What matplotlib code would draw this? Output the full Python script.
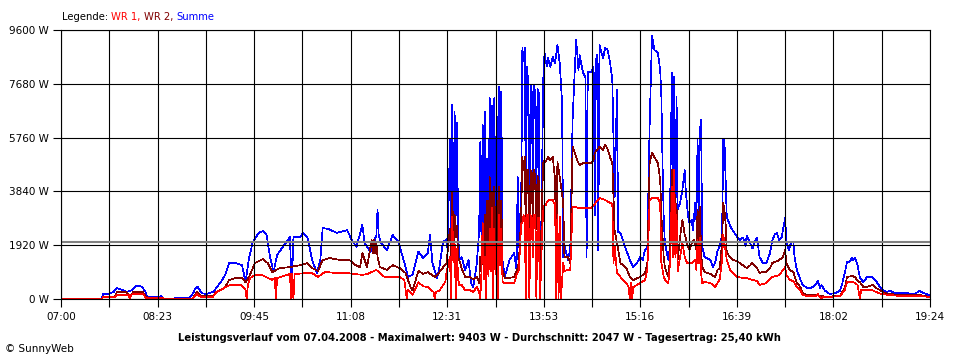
import numpy as np
import matplotlib
matplotlib.use("Agg")
import matplotlib.pyplot as plt

summe = [(0, 0), (6, 20), (14, 20), (15, 0), (35, 0), (36, 180), (41, 190), (45, 250), (48, 390), (52, 330),
         (56, 250), (60, 300), (64, 460), (69, 450), (72, 280), (74, 70), (80, 60), (86, 100), (87, 0), (97, 0),
         (98, 40), (110, 40), (113, 200), (115, 380), (117, 430), (119, 300), (121, 200), (125, 180), (130, 250),
         (133, 390), (136, 560), (138, 680), (141, 900), (144, 1280), (150, 1280), (155, 1210), (158, 600),
         (161, 1460), (164, 2000), (169, 2350), (173, 2430), (176, 2280), (179, 1500), (182, 960), (185, 1570),
         (190, 1860), (196, 2210), (197, 960), (198, 960), (199, 2210), (205, 2210), (207, 2360), (211, 2210),
         (215, 1390), (219, 930), (222, 1390), (224, 2530), (229, 2500), (236, 2360), (245, 2460), (249, 2100),
         (253, 1860), (258, 2640), (260, 2000), (265, 1680), (270, 2280), (271, 3180), (272, 2280), (274, 2000),
         (279, 1750), (284, 2280), (289, 2030), (295, 1140), (297, 790), (301, 860), (306, 1700), (310, 1460),
         (314, 1650), (316, 2280), (318, 1280), (322, 750), (324, 1140), (327, 2030), (330, 2130), (331, 1750),
         (333, 5670), (334, 2460), (335, 6920), (336, 2000), (337, 6670), (338, 3000), (339, 6280), (340, 2400),
         (341, 1390), (343, 1500), (346, 1040), (349, 1390), (351, 570), (353, 430), (356, 1280), (358, 2460),
         (359, 5600), (360, 2000), (361, 6200), (362, 1800), (363, 6670), (364, 2500), (365, 5000), (366, 1700),
         (367, 7170), (368, 2400), (369, 6900), (370, 3000), (371, 7170), (372, 2200), (373, 6500), (374, 1800),
         (375, 7570), (376, 2400), (377, 7400), (378, 1390), (380, 790), (384, 1390), (388, 1640), (390, 1040),
         (391, 4350), (392, 1860), (393, 2900), (394, 3430), (395, 8960), (396, 8500), (397, 8960), (398, 3000),
         (399, 8280), (400, 7700), (401, 1300), (402, 7640), (403, 7400), (404, 4000), (405, 7640), (406, 7350),
         (407, 3800), (408, 7500), (409, 7350), (410, 1300), (411, 2000), (412, 5000), (413, 8000), (414, 8780),
         (415, 8500), (416, 8300), (417, 8600), (418, 8420), (419, 8280), (421, 8640), (423, 8420), (425, 9070),
         (427, 8420), (429, 7000), (430, 1500), (431, 1930), (434, 1390), (436, 1750), (438, 6390), (441, 9240),
         (442, 8780), (443, 8170), (444, 8700), (447, 8070), (449, 7920), (450, 1500), (451, 8100), (454, 8100),
         (456, 8280), (457, 3000), (458, 8500), (459, 8710), (460, 1750), (461, 9070), (464, 8600), (466, 8960),
         (468, 8890), (470, 8460), (472, 7820), (474, 3640), (476, 7460), (477, 2400), (479, 2360), (481, 2100),
         (484, 1750), (487, 1390), (490, 1140), (493, 1280), (496, 1500), (498, 1390), (500, 1750), (502, 1860),
         (504, 6280), (506, 9400), (508, 8890), (511, 8780), (513, 8170), (514, 7210), (515, 4850), (516, 2930),
         (517, 2000), (520, 1390), (521, 1750), (523, 8070), (524, 3000), (525, 7920), (526, 2500), (527, 7210),
         (528, 3200), (530, 3430), (532, 3890), (534, 4600), (535, 3780), (537, 2930), (538, 2710), (540, 2820),
         (541, 2460), (543, 3430), (544, 2820), (545, 5670), (546, 3000), (547, 6000), (548, 6390), (549, 1860),
         (551, 1500), (556, 1390), (558, 1140), (560, 1285), (562, 1700), (564, 1900), (566, 2300), (567, 5670),
         (568, 5670), (569, 4250), (570, 2930), (573, 2600), (575, 2460), (579, 2210), (581, 2106), (584, 2200),
         (586, 1900), (587, 2250), (590, 2000), (592, 1800), (594, 2050), (596, 2200), (598, 1500), (601, 1285),
         (604, 1285), (607, 1640), (609, 2100), (611, 2300), (613, 2350), (615, 2100), (617, 2200), (620, 2900),
         (621, 2100), (623, 1750), (625, 2000), (627, 2030), (628, 1500), (630, 1035), (633, 700), (635, 500),
         (639, 390), (641, 390), (644, 430), (647, 571), (648, 650), (650, 390), (651, 500), (654, 300),
         (657, 214), (658, 178), (663, 214), (667, 300), (669, 571), (671, 930), (673, 1320), (675, 1320),
         (677, 1460), (678, 1400), (680, 1460), (682, 1200), (684, 750), (687, 600), (690, 780), (694, 790),
         (697, 680), (699, 570), (701, 430), (704, 321), (707, 250), (710, 290), (714, 214), (722, 214),
         (731, 180), (735, 290), (738, 214), (741, 180), (744, 110)]

wr2 = [(0, 0), (35, 0), (36, 70), (46, 70), (48, 250), (56, 250), (59, 110), (62, 250), (70, 250), (73, 70),
       (76, 30), (87, 30), (88, 0), (97, 0), (98, 20), (113, 20), (116, 250), (120, 110), (130, 110), (133, 250),
       (136, 320), (140, 390), (144, 680), (150, 750), (155, 750), (158, 600), (161, 790), (166, 1280),
       (173, 1430), (177, 1280), (181, 960), (187, 1100), (196, 1140), (205, 1210), (211, 1280), (215, 1100),
       (220, 1000), (224, 1390), (230, 1460), (239, 1390), (247, 1390), (252, 1210), (256, 1140), (258, 1640),
       (262, 1140), (266, 2100), (267, 1640), (268, 2100), (269, 1640), (270, 2000), (271, 1500), (273, 1140),
       (279, 1040), (284, 1210), (290, 1100), (295, 930), (299, 450), (301, 300), (306, 1000), (310, 900),
       (314, 960), (320, 790), (324, 960), (330, 1280), (333, 2500), (334, 1500), (335, 3780), (336, 1700),
       (337, 3000), (338, 2200), (339, 2600), (340, 1500), (341, 1390), (343, 1100), (346, 790), (350, 790),
       (353, 700), (356, 790), (358, 570), (359, 1500), (360, 1000), (361, 2500), (362, 1200), (363, 3000),
       (364, 1500), (365, 3500), (366, 1300), (367, 4350), (368, 1800), (369, 3800), (370, 2000), (371, 4000),
       (372, 1500), (373, 3500), (374, 1300), (375, 4000), (376, 1800), (377, 3500), (378, 1035), (380, 750),
       (384, 750), (388, 790), (390, 1000), (392, 1285), (394, 3000), (395, 5070), (396, 4600), (397, 5070),
       (398, 2000), (399, 4600), (400, 4600), (401, 1300), (402, 4600), (403, 4500), (404, 2500), (405, 4600),
       (406, 4400), (407, 2500), (408, 4400), (409, 4200), (410, 1300), (411, 2000), (412, 3800), (413, 4900),
       (414, 4960), (415, 4900), (416, 5000), (417, 5070), (418, 5000), (419, 4960), (421, 5070), (423, 4250),
       (424, 1300), (425, 4900), (427, 4350), (430, 3430), (431, 1500), (434, 1500), (436, 1280), (438, 5430),
       (441, 5070), (443, 4850), (444, 4780), (447, 4850), (454, 4850), (456, 4960), (457, 5210), (461, 5430),
       (464, 5320), (466, 5500), (468, 5350), (470, 5070), (472, 4850), (474, 2460), (476, 2000), (479, 1280),
       (484, 1100), (487, 790), (490, 680), (496, 790), (500, 930), (502, 1280), (504, 4850), (506, 5210),
       (508, 5070), (511, 4850), (513, 4250), (514, 3000), (516, 1500), (517, 1140), (520, 790), (521, 1280),
       (523, 4600), (524, 2500), (525, 4500), (526, 2500), (527, 3400), (528, 1400), (530, 2200), (532, 2820),
       (534, 2300), (536, 2000), (537, 1850), (538, 1750), (540, 2000), (542, 2100), (544, 1750), (545, 3200),
       (546, 2000), (547, 3300), (548, 1700), (549, 1140), (551, 964), (556, 893), (560, 785), (562, 1035),
       (564, 1100), (566, 2000), (567, 3430), (568, 3200), (569, 2700), (570, 1642), (573, 1500), (575, 1392),
       (579, 1350), (581, 1285), (584, 1200), (587, 1106), (590, 1200), (592, 1285), (596, 1100), (598, 928),
       (601, 964), (604, 964), (607, 1100), (609, 1285), (613, 1350), (615, 1392), (618, 1500), (620, 1749),
       (621, 1285), (624, 1035), (627, 964), (630, 571), (633, 428), (635, 214), (639, 143), (646, 143),
       (656, 71), (663, 107), (667, 107), (671, 393), (673, 785), (677, 821), (680, 785), (681, 680), (684, 600),
       (687, 428), (690, 428), (695, 500), (698, 393), (701, 321), (705, 214), (710, 178), (718, 143),
       (735, 143), (744, 71)]

wr1 = [(0, 0), (35, 0), (36, 70), (46, 70), (48, 143), (58, 143), (59, 0), (60, 143), (62, 178), (70, 178),
       (73, 36), (87, 36), (88, 0), (97, 0), (98, 20), (113, 20), (116, 178), (120, 71), (130, 71), (133, 250),
       (137, 321), (141, 430), (145, 500), (154, 500), (158, 321), (159, 0), (160, 500), (162, 750), (166, 860),
       (172, 860), (177, 750), (181, 680), (183, 750), (184, 0), (185, 750), (188, 785), (196, 890), (197, 0),
       (198, 890), (199, 0), (200, 890), (210, 928), (215, 928), (220, 785), (226, 964), (236, 928), (244, 928),
       (252, 890), (258, 860), (262, 890), (270, 1035), (271, 1000), (277, 785), (284, 790), (290, 785),
       (294, 680), (296, 0), (297, 321), (301, 143), (306, 600), (310, 450), (314, 430), (319, 250), (320, 0),
       (321, 250), (324, 300), (329, 610), (330, 930), (333, 1500), (334, 0), (335, 2930), (336, 1300),
       (337, 2000), (338, 0), (339, 1800), (340, 700), (341, 500), (343, 500), (346, 320), (350, 320), (353, 250),
       (356, 430), (358, 250), (359, 0), (360, 1000), (361, 2710), (362, 700), (363, 1500), (364, 0), (365, 2000),
       (366, 800), (367, 2500), (368, 1000), (369, 3250), (370, 0), (371, 2500), (372, 900), (373, 2000),
       (374, 0), (375, 3000), (376, 1200), (377, 2500), (378, 600), (380, 571), (384, 571), (388, 571),
       (390, 850), (392, 1035), (394, 2700), (395, 2710), (396, 3000), (397, 2900), (398, 0), (399, 3000),
       (400, 3000), (401, 0), (402, 3000), (403, 2900), (404, 1500), (405, 3000), (406, 3000), (407, 0),
       (408, 2900), (409, 2900), (410, 0), (411, 1000), (412, 2500), (413, 3200), (414, 3360), (415, 3360),
       (416, 3450), (417, 3500), (418, 3530), (419, 3530), (421, 3530), (422, 3430), (423, 3430), (424, 0),
       (425, 3000), (426, 0), (427, 2930), (428, 0), (430, 1285), (431, 1000), (434, 1035), (436, 1035),
       (438, 3283), (441, 3283), (443, 3248), (454, 3248), (457, 3390), (461, 3605), (466, 3533), (470, 3426),
       (472, 3400), (473, 1285), (474, 1900), (476, 928), (479, 785), (484, 571), (486, 428), (487, 0),
       (488, 571), (489, 0), (490, 428), (493, 500), (496, 571), (500, 678), (502, 1035), (504, 3533),
       (506, 3605), (508, 3605), (511, 3605), (513, 3426), (514, 1285), (516, 785), (517, 700), (520, 571),
       (521, 1035), (522, 2000), (523, 4000), (524, 1500), (525, 4600), (526, 1500), (527, 3000), (528, 1000),
       (530, 1500), (532, 2000), (534, 1500), (536, 1285), (538, 1285), (540, 1285), (543, 1392), (544, 1035),
       (545, 2100), (546, 1285), (547, 2200), (548, 928), (549, 571), (551, 607), (556, 571), (560, 428),
       (562, 571), (564, 700), (566, 1392), (567, 2284), (568, 2000), (569, 1700), (570, 1392), (573, 1035),
       (575, 928), (579, 785), (584, 750), (587, 750), (592, 678), (596, 640), (598, 500), (604, 571),
       (609, 785), (615, 857), (620, 1142), (621, 857), (624, 678), (627, 640), (630, 428), (633, 321),
       (635, 143), (639, 107), (646, 107), (648, 178), (651, 0), (652, 71), (658, 71), (667, 107), (671, 321),
       (673, 607), (678, 607), (680, 571), (682, 500), (684, 0), (685, 321), (690, 321), (694, 321), (698, 250),
       (702, 178), (710, 143), (718, 107), (735, 107), (744, 71)]

durchschnitt = 2047
y_ticks = [0, 1920, 3840, 5760, 7680, 9600]
x_labels = ["07:00", "08:23", "09:45", "11:08", "12:31", "13:53", "15:16", "16:39", "18:02", "19:24"]
day_minutes = 744

c_wr1 = "#ff0000"
c_wr2 = "#800000"
c_sum = "#0000ff"

plt.rcParams["font.family"] = "DejaVu Sans"

fig = plt.figure(figsize=(9.6, 3.6), dpi=100)
ax = fig.add_axes([61 / 960, 61 / 360, 869 / 960, 269 / 360])

for series, col, z in [(summe, c_sum, 2.0), (wr2, c_wr2, 2.1), (wr1, c_wr1, 2.2)]:
    t, w = zip(*series)
    ax.plot(t, w, color=col, lw=0.5, zorder=z, antialiased=False)

ax.axhline(durchschnitt, color="#808080", lw=1.5, zorder=3)

ax.set_xlim(0, day_minutes)
ax.set_ylim(0, 9600)
ax.set_xticks(np.linspace(0, day_minutes, len(x_labels)))
ax.set_xticks(np.linspace(0, day_minutes, 2 * len(x_labels) - 1), minor=True)
ax.set_xticklabels(x_labels)
ax.set_yticks(y_ticks)
ax.set_yticklabels([f"{v} W" for v in y_ticks])
ax.tick_params(which="both", length=6, width=0.8, color="black", labelsize=7.5, direction="out")
ax.tick_params(axis="x", pad=3)
ax.tick_params(axis="y", pad=2.5)
ax.set_axisbelow(False)
ax.grid(which="both", color="black", lw=0.8)
for s in ax.spines.values():
    s.set_color("black")
    s.set_linewidth(0.8)
    s.set_zorder(3.5)

fig.text(0.499, 1 - 338 / 360, "Leistungsverlauf vom 07.04.2008 - Maximalwert: 9403 W - Durchschnitt: 2047 W - "
         "Tagesertrag: 25,40 kWh", ha="center", va="center", fontsize=7.2, fontweight="bold")
fig.text(5 / 960, 1 - 349 / 360, "\u00a9 SunnyWeb", ha="left", va="center", fontsize=7.5)

# legend line built from coloured pieces
fig.canvas.draw()
r = fig.canvas.get_renderer()
x = 62 / 960
for txt, col in [("Legende: ", "black"), ("WR 1, ", c_wr1), ("WR 2, ", c_wr2), ("Summe", c_sum)]:
    t = fig.text(x, 1 - 17 / 360, txt, color=col, ha="left", va="center", fontsize=7.2)
    bb = t.get_window_extent(r)
    x += bb.width / fig.bbox.width

fig.savefig("out.png", dpi=100)
